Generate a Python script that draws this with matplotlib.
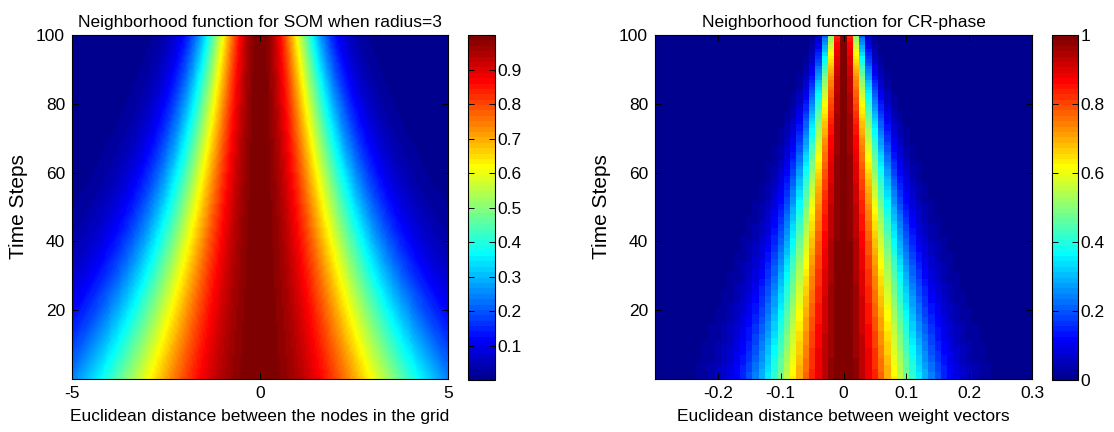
import numpy as np
import matplotlib
matplotlib.use("Agg")
import matplotlib.pyplot as plt
from matplotlib.colors import ListedColormap

plt.rcParams["font.family"] = ["Liberation Sans", "DejaVu Sans"]
plt.rcParams["axes.unicode_minus"] = False

# ---- data -------------------------------------------------------------
time_steps = np.arange(1, 101)

# SOM: Gaussian neighbourhood over grid distance, width shrinking from the radius
som_distance = np.linspace(-5, 5, 201)
som_radius = 3.0
som_final_width = 1.0

# CR-phase: Gaussian neighbourhood over weight-vector distance
cr_distance = np.round(np.arange(-0.30, 0.3001, 0.01), 2)
cr_width_start = 0.083
cr_width_end = 0.017

som_xticks = [-5, 0, 5]
cr_xticks = [-0.2, -0.1, 0, 0.1, 0.2, 0.3]
yticks = [20, 40, 60, 80, 100]
som_cbar_ticks = [0.1, 0.2, 0.3, 0.4, 0.5, 0.6, 0.7, 0.8, 0.9]
cr_cbar_ticks = [0, 0.2, 0.4, 0.6, 0.8, 1.0]


def matlab_jet(m=64):
    n = int(np.ceil(m / 4))
    u = np.concatenate([np.arange(1, n + 1) / n, np.ones(n - 1), np.arange(n, 0, -1) / n])
    g = int(np.ceil(n / 2)) - (1 if m % 4 == 1 else 0) + np.arange(1, len(u) + 1)
    r = g + n
    b = g - n
    g = g[g <= m]
    r = r[r <= m]
    b = b[b >= 1]
    J = np.zeros((m, 3))
    J[r - 1, 0] = u[:len(r)]
    J[g - 1, 1] = u[:len(g)]
    J[b - 1, 2] = u[len(u) - len(b):]
    return ListedColormap(J)


jet = matlab_jet(64)


def gaussian(d, w):
    return np.exp(-(d[None, :] ** 2) / (2.0 * w[:, None] ** 2))


frac = (time_steps - 1) / (len(time_steps) - 1)
som_width = som_radius * (som_final_width / som_radius) ** frac
som_values = gaussian(som_distance, som_width)
cr_width = cr_width_start + (cr_width_end - cr_width_start) * frac
cr_values = gaussian(cr_distance, cr_width)

# ---- figure -----------------------------------------------------------
W, H = 1114, 432
fig = plt.figure(figsize=(W / 100, H / 100), dpi=100)


def px_rect(x0, x1, ytop, ybot):
    return [x0 / W, 1 - ybot / H, (x1 - x0) / W, (ybot - ytop) / H]


FS = 12.5
FS_YLABEL = 15


def style_axes(ax):
    ax.tick_params(direction="in", length=4, width=0.7, top=True, right=True,
                   labelsize=FS, pad=5)
    for s in ax.spines.values():
        s.set_linewidth(0.8)


def style_cbar(cax):
    cax.tick_params(direction="in", length=4, width=0.7, left=True, right=True,
                    labelleft=False, labelright=True, labelsize=FS, pad=2)
    for s in cax.spines.values():
        s.set_linewidth(0.8)


def fmt(v):
    return f"{v:g}"


# left panel
ax1 = fig.add_axes(px_rect(72, 448, 35, 379))
im1 = ax1.imshow(som_values, cmap=jet, origin="lower", aspect="auto",
                 interpolation="bilinear",
                 extent=[som_distance[0], som_distance[-1], 0, 100],
                 vmin=som_values.min(), vmax=som_values.max())
ax1.set_xlim(-5, 5)
ax1.set_ylim(0, 100)
ax1.set_xticks(som_xticks)
ax1.set_xticklabels([fmt(v) for v in som_xticks])
ax1.set_yticks(yticks)
ax1.set_yticklabels([fmt(v) for v in yticks])
style_axes(ax1)
ax1.set_title("Neighborhood function for SOM when radius=3", fontsize=FS, pad=6)
ax1.set_xlabel("Euclidean distance between the nodes in the grid", fontsize=FS, labelpad=6)
ax1.set_ylabel("Time Steps", fontsize=FS_YLABEL, labelpad=6)

cax1 = fig.add_axes(px_rect(468, 495, 35, 380))
cb1 = fig.colorbar(im1, cax=cax1)
cb1.set_ticks(som_cbar_ticks)
cb1.set_ticklabels([fmt(v) for v in som_cbar_ticks])
cb1.outline.set_linewidth(0.8)
style_cbar(cax1)

# right panel
ax2 = fig.add_axes(px_rect(655, 1032, 35, 379))
step = cr_distance[1] - cr_distance[0]
x_edges = np.concatenate([cr_distance - step / 2, [cr_distance[-1] + step / 2]])
y_edges = np.arange(0, 101)
im2 = ax2.pcolormesh(x_edges, y_edges, cr_values, cmap=jet, vmin=0, vmax=1,
                     shading="flat", rasterized=True)
ax2.set_xlim(-0.3, 0.3)
ax2.set_ylim(0, 100)
ax2.set_xticks(cr_xticks)
ax2.set_xticklabels([fmt(v) for v in cr_xticks])
ax2.set_yticks(yticks)
ax2.set_yticklabels([fmt(v) for v in yticks])
style_axes(ax2)
ax2.set_title("Neighborhood function for CR-phase", fontsize=FS, pad=6)
ax2.set_xlabel("Euclidean distance between weight vectors", fontsize=FS, labelpad=6)
ax2.set_ylabel("Time Steps", fontsize=FS_YLABEL, labelpad=6)

cax2 = fig.add_axes(px_rect(1052, 1078, 35, 380))
cb2 = fig.colorbar(im2, cax=cax2)
cb2.set_ticks(cr_cbar_ticks)
cb2.set_ticklabels([fmt(v) for v in cr_cbar_ticks])
cb2.outline.set_linewidth(0.8)
style_cbar(cax2)

fig.savefig("out.png", dpi=100, facecolor="white")
